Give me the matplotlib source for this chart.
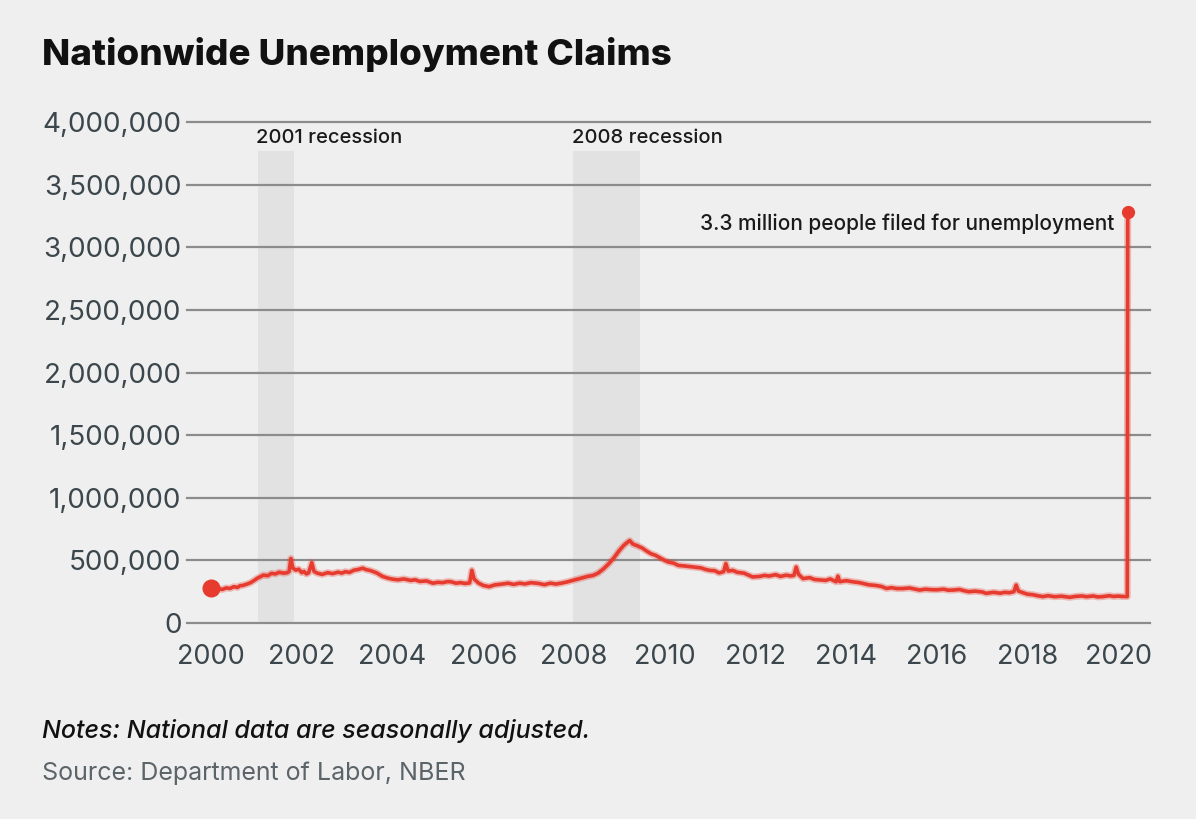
import matplotlib
matplotlib.use("Agg")
import matplotlib.pyplot as plt
from matplotlib.ticker import FuncFormatter

# weekly initial claims (year fraction, claims in thousands)
years = [2000.0, 2000.06, 2000.1, 2000.18, 2000.25, 2000.33, 2000.42, 2000.5, 2000.58,
         2000.64, 2000.7, 2000.8, 2000.87, 2000.95, 2001.02, 2001.1, 2001.15, 2001.25,
         2001.33, 2001.42, 2001.5, 2001.6, 2001.68, 2001.72, 2001.76, 2001.8, 2001.87,
         2001.93, 2002.0, 2002.05, 2002.1, 2002.15, 2002.22, 2002.27, 2002.34, 2002.45,
         2002.57, 2002.68, 2002.8, 2002.88, 2002.96, 2003.05, 2003.15, 2003.25, 2003.34,
         2003.42, 2003.5, 2003.58, 2003.66, 2003.78, 2003.9, 2004.0, 2004.12, 2004.25,
         2004.4, 2004.5, 2004.6, 2004.75, 2004.89, 2005.0, 2005.1, 2005.2, 2005.28,
         2005.4, 2005.5, 2005.6, 2005.7, 2005.75, 2005.8, 2005.9, 2006.0, 2006.13,
         2006.25, 2006.44, 2006.55, 2006.67, 2006.8, 2006.92, 2007.05, 2007.22, 2007.35,
         2007.48, 2007.6, 2007.72, 2007.85, 2007.99, 2008.1, 2008.2, 2008.3, 2008.42,
         2008.53, 2008.65, 2008.77, 2008.88, 2009.0, 2009.1, 2009.18, 2009.23, 2009.3,
         2009.39, 2009.5, 2009.6, 2009.7, 2009.8, 2009.9, 2010.0, 2010.08, 2010.2,
         2010.3, 2010.45, 2010.63, 2010.8, 2010.9, 2011.0, 2011.1, 2011.2, 2011.3,
         2011.35, 2011.4, 2011.5, 2011.6, 2011.75, 2011.94, 2012.1, 2012.2, 2012.3,
         2012.45, 2012.55, 2012.68, 2012.78, 2012.85, 2012.9, 2012.95, 2013.05, 2013.2,
         2013.3, 2013.4, 2013.55, 2013.65, 2013.78, 2013.82, 2013.86, 2014.0, 2014.15,
         2014.3, 2014.5, 2014.65, 2014.78, 2014.89, 2015.0, 2015.12, 2015.25, 2015.4,
         2015.5, 2015.62, 2015.75, 2015.88, 2016.0, 2016.15, 2016.25, 2016.36, 2016.5,
         2016.6, 2016.7, 2016.85, 2017.0, 2017.09, 2017.25, 2017.4, 2017.5, 2017.6,
         2017.7, 2017.75, 2017.8, 2017.9, 2018.0, 2018.12, 2018.22, 2018.34, 2018.45,
         2018.6, 2018.75, 2018.93, 2019.05, 2019.2, 2019.3, 2019.45, 2019.55, 2019.67,
         2019.8, 2019.9, 2020.0, 2020.08, 2020.15, 2020.2, 2020.21]
claims = [282, 268, 262, 272, 268, 280, 276, 290, 284,
          298, 300, 312, 322, 340, 358, 372, 382, 378,
          396, 392, 405, 398, 402, 412, 515, 440, 422,
          430, 402, 412, 392, 400, 482, 412, 398, 388,
          402, 394, 406, 398, 410, 404, 422, 428, 438,
          426, 420, 410, 398, 372, 358, 350, 345, 352,
          340, 345, 332, 336, 318, 325, 322, 330, 330,
          318, 322, 316, 320, 421, 350, 318, 300, 290,
          304, 312, 318, 308, 318, 312, 322, 316, 306,
          318, 311, 318, 328, 342, 352, 362, 372, 380,
          398, 432, 474, 520, 579, 620, 645, 658, 630,
          618, 600, 575, 553, 540, 520, 500, 487, 478,
          460, 455, 447, 440, 428, 420, 418, 400, 410,
          474, 415, 420, 405, 398, 368, 372, 380, 375,
          386, 372, 382, 376, 380, 447, 390, 355, 362,
          348, 345, 340, 352, 329, 374, 330, 338, 329,
          322, 305, 300, 292, 276, 282, 275, 275, 280,
          272, 263, 270, 266, 265, 270, 262, 263, 268,
          258, 250, 254, 248, 237, 245, 238, 245, 242,
          250, 303, 255, 242, 230, 226, 218, 211, 218,
          210, 214, 205, 212, 216, 210, 216, 208, 211,
          218, 212, 215, 212, 211, 211, 3283]
claims = [c * 1000 for c in claims]

recessions = [(2001.04, 2001.83, "2001 recession"), (2007.99, 2009.45, "2008 recession")]
y_ticks = [0, 500000, 1000000, 1500000, 2000000, 2500000, 3000000, 3500000, 4000000]
x_ticks = list(range(2000, 2021, 2))

BG = "#efefef"
RED = "#e63b2e"
GRID = "#8c8c8c"
TXT = "#3b474c"

plt.rcParams["font.family"] = ["Inter", "DejaVu Sans"]

fig = plt.figure(figsize=(11.96, 8.19), dpi=100)
fig.patch.set_facecolor(BG)
ax = fig.add_axes([0.1564, 0.2393, 0.8051, 0.6117])
ax.set_facecolor(BG)
ax.set_xlim(1999.47, 2020.70)
ax.set_ylim(0, 4000000)

for s, e, lab in recessions:
    ax.axvspan(s, e, ymin=0, ymax=0.943, color="#e2e2e2", lw=0, zorder=0)
    ax.text(s - 0.04, 3870000, lab, fontsize=14.5, weight="medium", color="#1a1a1a",
            ha="left", va="center")

for t in y_ticks:
    ax.axhline(t, color=GRID, lw=1.6, zorder=1, clip_on=False)

# soft edge then the line
ax.plot(years, claims, color=RED, lw=5, alpha=0.3, zorder=2, solid_joinstyle="round")
ax.plot(years, claims, color=RED, lw=2.6, zorder=3, solid_joinstyle="round")
ax.plot(years[0], claims[0], "o", color=RED, ms=12, zorder=4)
ax.plot(years[-1], claims[-1], "o", color=RED, ms=8.5, zorder=4)

ax.text(years[-1] - 0.3, 3190000, "3.3 million people filed for unemployment",
        fontsize=15, weight="medium", color="#1a1a1a", ha="right", va="center")

ax.set_yticks(y_ticks)
ax.yaxis.set_major_formatter(FuncFormatter(lambda v, p: f"{int(v):,}"))
ax.set_xticks(x_ticks)
ax.tick_params(axis="both", length=0, colors=TXT)
ax.tick_params(axis="y", labelsize=20, pad=4)
ax.tick_params(axis="x", labelsize=19.5, pad=15)
for sp in ax.spines.values():
    sp.set_visible(False)

fig.text(0.035, 0.933, "Nationwide Unemployment Claims", fontsize=26.5, weight="heavy",
         color="#111111", ha="left", va="center")
fig.text(0.035, 0.108, "Notes: National data are seasonally adjusted.", fontsize=18,
         style="italic", weight="medium", color="#111111", ha="left", va="center")
fig.text(0.035, 0.056, "Source: Department of Labor, NBER", fontsize=18,
         color="#5b6468", ha="left", va="center")

fig.savefig("out.png", dpi=100, facecolor=BG)
